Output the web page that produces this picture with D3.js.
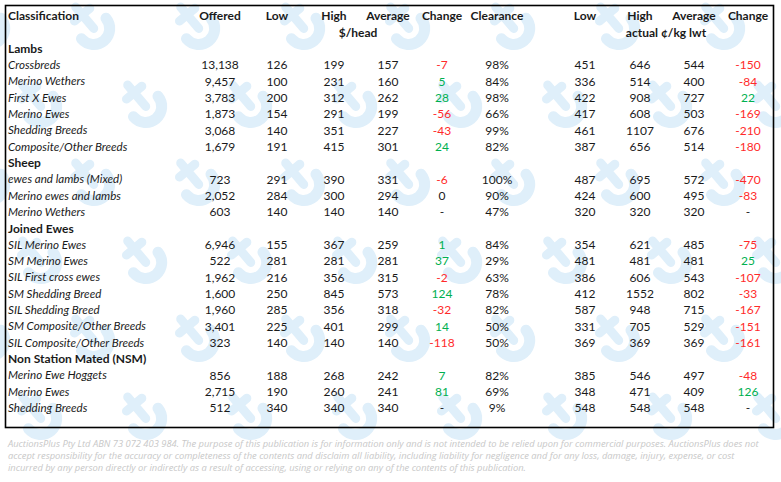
<!DOCTYPE html>
<html><head><meta charset="utf-8">
<script src="https://cdn.jsdelivr.net/npm/d3@7"></script>
<style>body{margin:0;background:#fff}svg{display:block}</style>
</head><body><svg id="c" width="781" height="482"></svg>
<script>
const groups = ["Lambs","Sheep","Joined Ewes","Non Station Mated (NSM)"];
const groupSizes = [6,3,7,3];
const items = ["Crossbreds","Merino Wethers","First X Ewes","Merino Ewes","Shedding Breeds","Composite/Other Breeds",
  "ewes and lambs (Mixed)","Merino ewes and lambs","Merino Wethers",
  "SIL Merino Ewes","SM Merino Ewes","SIL First cross ewes","SM Shedding Breed","SIL Shedding Breed","SM Composite/Other Breeds","SIL Composite/Other Breeds",
  "Merino Ewe Hoggets","Merino Ewes","Shedding Breeds"];
const offered = [13138,9457,3783,1873,3068,1679, 723,2052,603, 6946,522,1962,1600,1960,3401,323, 856,2715,512];
const low = [126,100,200,154,140,191, 291,284,140, 155,281,216,250,285,225,140, 188,190,340];
const high = [199,231,312,291,351,415, 390,300,140, 367,281,356,845,356,401,140, 268,260,340];
const average = [157,160,262,199,227,301, 331,294,140, 259,281,315,573,318,299,140, 242,241,340];
const change = [-7,5,28,-56,-43,24, -6,0,null, 1,37,-2,124,-32,14,-118, 7,81,null];
const clearance = [98,84,98,66,99,82, 100,90,47, 84,29,63,78,82,50,50, 82,69,9];
const lowKg = [451,336,422,417,461,387, 487,424,320, 354,481,386,412,587,331,369, 385,348,548];
const highKg = [646,514,908,608,1107,656, 695,600,320, 621,481,606,1552,948,705,369, 546,471,548];
const avgKg = [544,400,727,503,676,514, 572,495,320, 485,481,543,802,715,529,369, 497,409,548];
const changeKg = [-150,-84,22,-169,-210,-180, -470,-83,null, -75,25,-107,-33,-167,-151,-161, -48,126,null];
const headers = ["Offered","Low","High","Average","Change","Clearance","Low","High","Average","Change"];
const subHeaders = [["$/head","high","average"],["actual ¢/kg lwt","high2","average2"]];
const footer = [
 "AuctionsPlus Pty Ltd ABN 73 072 403 984. The purpose of this publication is for information only and is not intended to be relied upon for commercial purposes. AuctionsPlus does not",
 "accept responsibility for the accuracy or completeness of the contents and disclaim all liability, including liability for negligence and for any loss, damage, injury, expense, or cost",
 "incurred by any person directly or indirectly as a result of accessing, using or relying on any of the contents of this publication."];

const svg = d3.select("#c");
const FONT = "Lato, 'Open Sans', sans-serif";
const RED = "#ff2a2a", GREEN = "#00b050", TXT = "#1a1a1a";

const rows = [{type:"head"},{type:"sub"}];
let k = 0;
groups.forEach((g,gi)=>{
  rows.push({type:"group", label:g});
  for(let j=0;j<groupSizes[gi];j++,k++) rows.push({type:"item", i:k});
});

const y = d3.scalePoint().domain(d3.range(rows.length)).range([16,408]);
const colKeys = ["offered","low","high","average","change","clearance","lowKg","highKg","avgKg","changeKg"];
const x = d3.scaleOrdinal().domain(colKeys.concat(["high2","average2"]))
  .range([220,277,334,388,442,497,585,640,694,748,640,694]);

// watermark
const wm = svg.append("g").attr("fill","none").attr("stroke","#dfeffa").attr("stroke-linecap","round");
const wmPos = [];
for (let r=0;r<6;r++) for (let c=0;c<9;c++){
  wmPos.push([ -10 + c*105 + (r%2)*52, 30 + r*78 ]);
}
wmPos.forEach(([cx,cy])=>{
  const g = wm.append("g").attr("transform",`translate(${cx},${cy}) rotate(-40)`);
  g.append("path").attr("d","M-16,-2 A16,16 0 0,0 16,-2").attr("stroke-width",11);
  g.append("path").attr("d","M0,-2 L0,-30 M-10,-20 L10,-20").attr("stroke-width",9);
});

svg.append("rect").attr("x",5.5).attr("y",5.5).attr("width",768).attr("height",422)
  .attr("fill","none").attr("stroke","#000").attr("stroke-width",1.6);

const t = svg.append("g").attr("font-family",FONT).attr("font-size",12).attr("fill",TXT);

t.append("text").attr("x",8).attr("y",y(0)).attr("dy","0.35em").attr("font-weight","bold").text("Classification");
t.selectAll("text.h").data(headers).join("text").attr("class","h")
  .attr("x",(d,i)=>x(colKeys[i])).attr("y",y(0)).attr("dy","0.35em")
  .attr("text-anchor","middle").attr("font-weight","bold").text(d=>d);
t.selectAll("text.sh").data(subHeaders).join("text").attr("class","sh")
  .attr("x",d=>(x(d[1])+x(d[2]))/2 + (d[0]==="$/head"?-3:-1)).attr("y",y(1)).attr("dy","0.35em")
  .attr("text-anchor","middle").attr("font-weight","bold").text(d=>d[0]);

const fmt = d3.format(",");
const plain = d3.format("d");
rows.forEach((r,ri)=>{
  if(r.type==="group"){
    t.append("text").attr("x",8).attr("y",y(ri)).attr("dy","0.35em").attr("font-weight","bold").text(r.label);
  } else if(r.type==="item"){
    const i=r.i;
    t.append("text").attr("x",8).attr("y",y(ri)).attr("dy","0.35em").attr("font-style","italic")
      .attr("font-size",11.6).text(items[i]);
    const cells = [
      ["offered",fmt(offered[i])],["low",low[i]],["high",high[i]],["average",average[i]],
      ["change",change[i]==null?"-":change[i], change[i]],
      ["clearance",clearance[i]+"%"],["lowKg",lowKg[i]],["highKg",plain(highKg[i])],["avgKg",avgKg[i]],
      ["changeKg",changeKg[i]==null?"-":changeKg[i], changeKg[i]]
    ];
    cells.forEach(c=>{
      t.append("text").attr("x",x(c[0])).attr("y",y(ri)).attr("dy","0.35em").attr("text-anchor","middle")
        .attr("fill", c.length>2 && c[2]!=null ? (c[2]<0?RED:(c[2]>0?GREEN:TXT)) : TXT)
        .text(c[1]);
    });
  }
});

const fy = d3.scalePoint().domain(d3.range(footer.length)).range([444,468]);
svg.append("g").attr("font-family","'Open Sans', sans-serif").attr("font-style","italic").attr("font-size",9.35)
  .attr("fill","#c8c8c8")
  .selectAll("text").data(footer).join("text")
  .attr("x",8).attr("y",(d,i)=>fy(i)).attr("dy","0.35em").text(d=>d);
</script></body></html>
